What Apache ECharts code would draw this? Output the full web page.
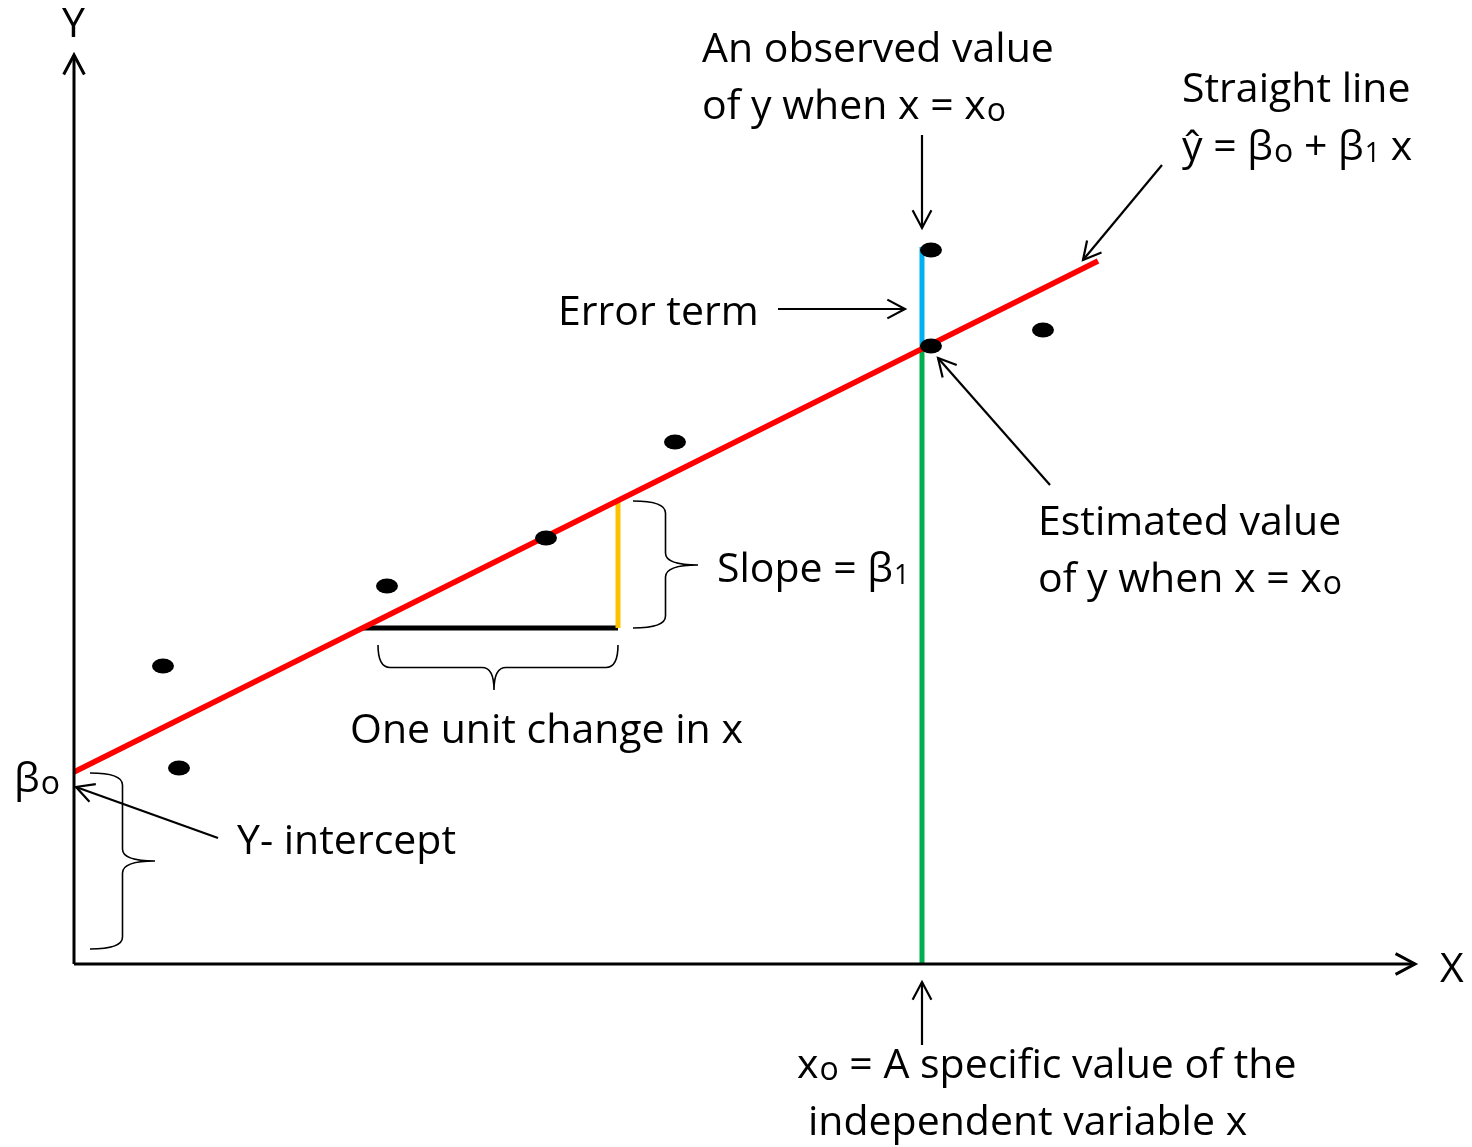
<!DOCTYPE html>
<html>
<head>
<meta charset="utf-8">
<script src="https://cdn.jsdelivr.net/npm/echarts@6/dist/echarts.min.js"></script>
<style>
  html, body { margin: 0; padding: 0; background: #fff; }
  #chart { width: 1472px; height: 1147px; }
</style>
</head>
<body>
<div id="chart"></div>
<script>
// observed points (x, y)
const pointX = [0.89, 1.05, 3.13, 4.72, 6.01, 8.57, 8.57, 9.69];
const pointY = [2.98, 1.96, 3.78, 4.26, 5.22, 7.14, 6.18, 6.34];

// fitted straight line, end points
const fitX = [0, 10.24];
const fitY = [1.92, 7.03];

// one unit step under the line
const stepX = [2.88, 5.44];
const stepY = [3.36, 4.63];

// the specific value x0, with observed / estimated y
const x0 = 8.48;
const observedY = 7.17;
const estimatedY = 6.19;

// arrows: [fromX, fromY, toX, toY]; first two are the axes
const arrows = [
  [0, 0, 0, 9.09],
  [0, 0, 13.41, 0],
  [8.48, 8.29, 8.48, 7.36],
  [7.04, 6.55, 8.31, 6.55],
  [10.88, 7.99, 10.09, 7.04],
  [9.76, 4.79, 8.64, 6.06],
  [1.44, 1.26, 0.02, 1.77],
  [8.48, -0.81, 8.48, -0.18]
];

// curly braces: [x1, y1, x2, y2, tipX, tipY]
const braces = [
  [5.59, 4.63, 5.59, 3.36, 6.24, 3.99],
  [3.04, 3.19, 5.44, 3.19, 4.20, 2.74],
  [0.16, 1.91, 0.16, 0.15, 0.81, 1.03]
];

// text labels (left edge, middle)
const labelX = [6.28, 6.28, 11.08, 11.08, 4.84, 9.64, 9.64, 6.43, 2.76, -0.60, 1.63, 7.23, 7.34, -0.12, 13.66];
const labelY = [9.14, 8.57, 8.74, 8.16, 6.51, 4.41, 3.84, 3.94, 2.33, 1.84, 1.22, -1.02, -1.59, 9.39, -0.06];
const labelText = [
  'An observed value',
  'of y when x = x{s|o}',
  'Straight line',
  'ŷ = β{s|o} + β{n|1} x',
  'Error term',
  'Estimated value',
  'of y when x = x{s|o}',
  'Slope = β{n|1}',
  'One unit change in x',
  'β{s|o}',
  'Y- intercept',
  'x{s|o} = A specific value of the',
  'independent variable x',
  'Y',
  'X'
];

const FONT = '"Open Sans", Lato, sans-serif';
const FONT_SIZE = 41;

const chart = echarts.init(document.getElementById('chart'));

function renderArrow(params, api) {
  const a = arrows[params.dataIndex];
  const s = api.coord([a[0], a[1]]);
  const e = api.coord([a[2], a[3]]);
  const isAxis = params.dataIndex < 2;
  const dx = e[0] - s[0], dy = e[1] - s[1];
  const len = Math.hypot(dx, dy);
  const ux = dx / len, uy = dy / len;
  const hl = isAxis ? 22 : 20;
  const ang = 28 * Math.PI / 180;
  const c = Math.cos(ang), sn = Math.sin(ang);
  const l1 = [e[0] - hl * (ux * c - uy * sn), e[1] - hl * (uy * c + ux * sn)];
  const l2 = [e[0] - hl * (ux * c + uy * sn), e[1] - hl * (uy * c - ux * sn)];
  const style = { stroke: '#000', lineWidth: isAxis ? 3 : 2.2, fill: null };
  return {
    type: 'group',
    children: [
      { type: 'line', shape: { x1: s[0], y1: s[1], x2: e[0], y2: e[1] }, style: style },
      { type: 'polyline', shape: { points: [l1, e, l2] }, style: style }
    ]
  };
}

function renderBrace(params, api) {
  const b = braces[params.dataIndex];
  const A = api.coord([b[0], b[1]]);
  const B = api.coord([b[2], b[3]]);
  const T = api.coord([b[4], b[5]]);
  const L = Math.hypot(B[0] - A[0], B[1] - A[1]);
  const u = [(B[0] - A[0]) / L, (B[1] - A[1]) / L];
  let n = [-u[1], u[0]];
  if ((T[0] - A[0]) * n[0] + (T[1] - A[1]) * n[1] < 0) n = [u[1], -u[0]];
  const D = (T[0] - A[0]) * n[0] + (T[1] - A[1]) * n[1];
  const m = (T[0] - A[0]) * u[0] + (T[1] - A[1]) * u[1];
  const h = D / 2, r = 12;
  const p = (t, k) => (A[0] + u[0] * t + n[0] * k).toFixed(1) + ' ' + (A[1] + u[1] * t + n[1] * k).toFixed(1);
  const d = 'M' + p(0, 0) +
    ' Q' + p(0, h) + ' ' + p(r, h) +
    ' L' + p(m - r, h) +
    ' Q' + p(m, h) + ' ' + p(m, D) +
    ' M' + p(m, D) +
    ' Q' + p(m, h) + ' ' + p(m + r, h) +
    ' L' + p(L - r, h) +
    ' Q' + p(L, h) + ' ' + p(L, 0);
  return {
    type: 'path',
    shape: { pathData: d },
    style: { stroke: '#000', lineWidth: 1.6, fill: null }
  };
}

function renderLabel(params, api) {
  const i = params.dataIndex;
  const pt = api.coord([labelX[i], labelY[i]]);
  return {
    type: 'text',
    x: pt[0],
    y: pt[1],
    style: {
      text: labelText[i],
      fill: '#000',
      fontFamily: FONT,
      fontSize: FONT_SIZE,
      align: 'left',
      verticalAlign: 'middle',
      rich: {
        s: { fontFamily: FONT, fontSize: 32, fill: '#000', verticalAlign: 'bottom', padding: [0, 0, 0, 1] },
        n: { fontFamily: FONT, fontSize: 27, fill: '#000', verticalAlign: 'bottom', padding: [0, 0, 1, 1] }
      }
    }
  };
}

const seg = (data, color) => ({
  type: 'line',
  data: data,
  symbol: 'none',
  lineStyle: { color: color, width: 5 },
  silent: true,
  z: 3
});

const option = {
  animation: false,
  backgroundColor: '#fff',
  grid: { left: 0, right: 0, top: 0, bottom: 0 },
  xAxis: { type: 'value', min: -0.74, max: 13.98, show: false },
  yAxis: { type: 'value', min: -1.83, max: 9.64, show: false },
  series: [
    seg([[x0, estimatedY], [x0, 0]], '#00B050'),
    seg([[x0, observedY], [x0, estimatedY]], '#00B0F0'),
    seg([[stepX[0], stepY[0]], [stepX[1], stepY[0]]], '#000'),
    seg([[stepX[1], stepY[0]], [stepX[1], stepY[1]]], '#FFC000'),
    Object.assign(seg([[fitX[0], fitY[0]], [fitX[1], fitY[1]]], '#FF0000'), { lineStyle: { color: '#FF0000', width: 5.5 } }),
    {
      type: 'scatter',
      data: pointX.map((x, i) => [x, pointY[i]]),
      symbol: 'circle',
      symbolSize: [22, 15],
      itemStyle: { color: '#000', opacity: 1 },
      z: 5
    },
    {
      type: 'custom',
      data: arrows,
      encode: { x: [0, 2], y: [1, 3] },
      renderItem: renderArrow,
      z: 4
    },
    {
      type: 'custom',
      data: braces,
      encode: { x: [0, 2, 4], y: [1, 3, 5] },
      renderItem: renderBrace,
      z: 4
    },
    {
      type: 'custom',
      data: labelX.map((x, i) => [x, labelY[i]]),
      renderItem: renderLabel,
      z: 6
    }
  ]
};

chart.setOption(option);
</script>
</body>
</html>
